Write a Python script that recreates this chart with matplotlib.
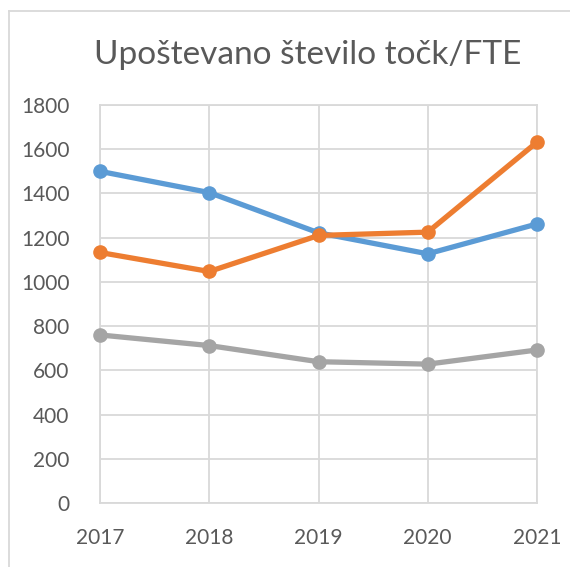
import matplotlib.pyplot as plt
from matplotlib.lines import Line2D

# ====== DATA ======
title = "Upoštevano število točk/FTE"
years = [2017, 2018, 2019, 2020, 2021]
blue_vals = [1500, 1404, 1222, 1127, 1262]
orange_vals = [1133, 1047, 1210, 1225, 1632]
gray_vals = [760, 712, 639, 628, 692]
y_ticks = [0, 200, 400, 600, 800, 1000, 1200, 1400, 1600, 1800]

plt.rcParams['font.family'] = ['Lato', 'DejaVu Sans']
text_col = "#595959"
grid_col = "#D9D9D9"

fig = plt.figure(figsize=(5.7, 5.67), dpi=100)
ax = fig.add_axes([100 / 570, 1 - 503 / 567, 437 / 570, 398 / 567])

for vals, col in [(blue_vals, "#5B9BD5"), (orange_vals, "#ED7D31"), (gray_vals, "#A5A5A5")]:
    ax.plot(years, vals, color=col, lw=3.8, marker="o", ms=9.5,
            solid_capstyle="round", zorder=3, clip_on=False)

ax.set_xlim(years[0], years[-1])
ax.set_ylim(0, 1800)
ax.set_xticks(years)
ax.set_yticks(y_ticks)
ax.grid(True, color=grid_col, lw=1.3)
for s in ax.spines.values():
    s.set_color(grid_col)
    s.set_linewidth(1.3)
ax.tick_params(length=0, labelsize=15, colors=text_col)
ax.tick_params(axis="y", pad=22)
ax.tick_params(axis="x", pad=18)

fig.text(308 / 570, 1 - 55 / 567, title, ha="center", va="center",
         fontsize=24, color=text_col)

# chart frame (left and top edges visible)
fig.add_artist(Line2D([9 / 570, 9 / 570], [0, 1 - 11 / 567], color=grid_col, lw=1.3,
                      transform=fig.transFigure))
fig.add_artist(Line2D([9 / 570, 1], [1 - 11 / 567, 1 - 11 / 567], color=grid_col, lw=1.3,
                      transform=fig.transFigure))

fig.savefig("out.png", dpi=100)
